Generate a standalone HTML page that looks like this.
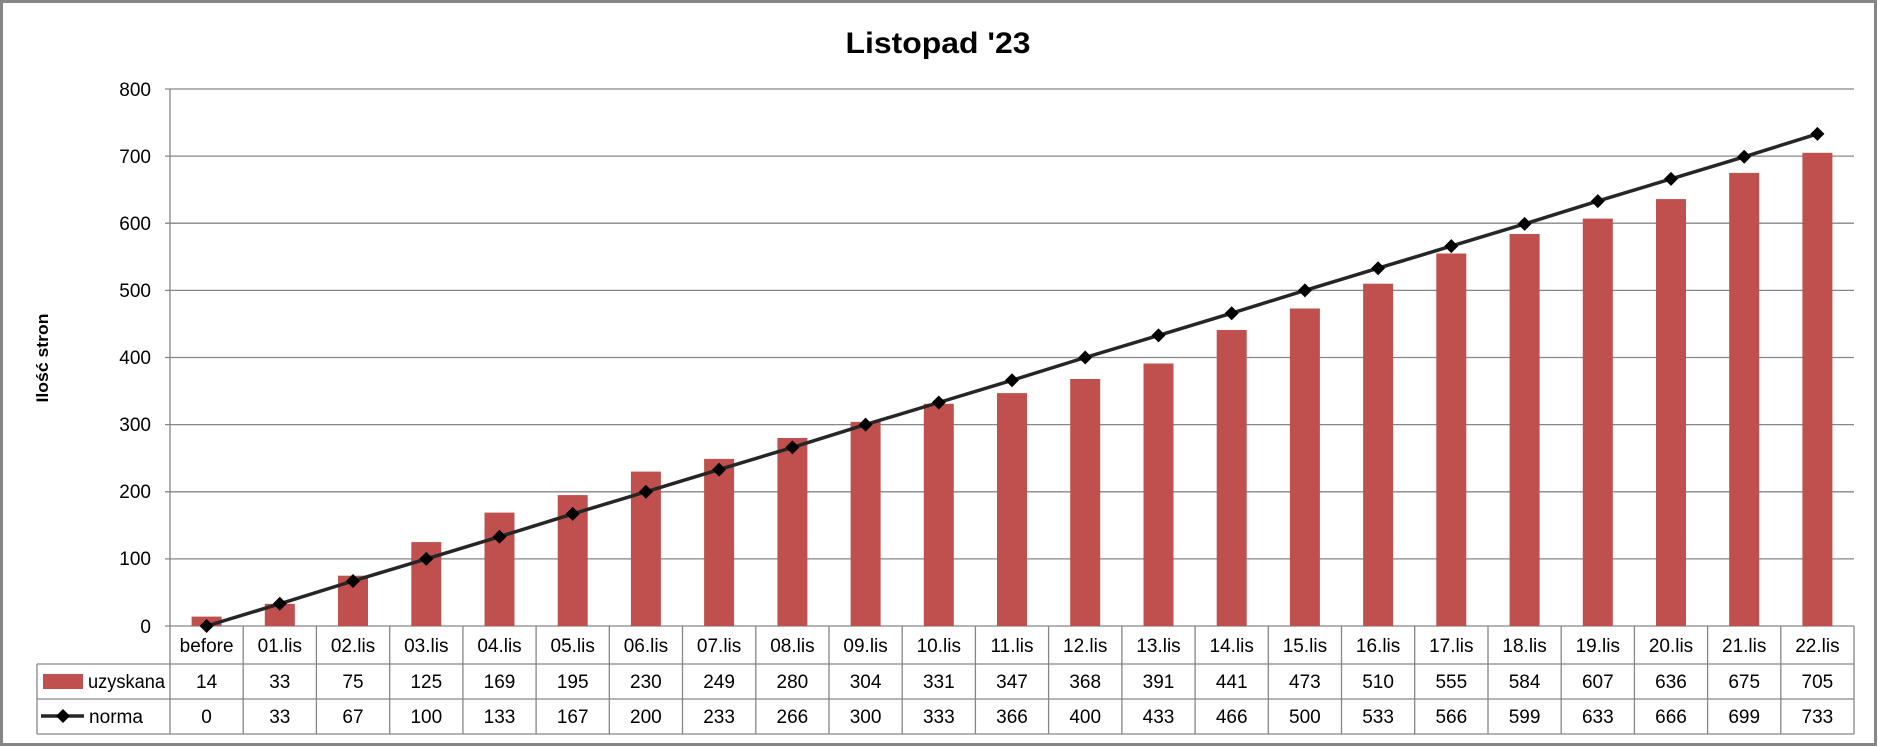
<!DOCTYPE html>
<html><head><meta charset="utf-8"><style>
html,body{margin:0;padding:0;background:#fff}
svg{display:block}
text{font-family:"Liberation Sans",sans-serif;fill:#000}
</style></head><body>
<svg width="1878" height="747" xmlns="http://www.w3.org/2000/svg">
<rect x="1.5" y="1.5" width="1874" height="743" fill="#fff" stroke="#868686" stroke-width="3"/>
<text x="938" y="53" font-size="30" font-weight="bold" text-anchor="middle" textLength="185" lengthAdjust="spacingAndGlyphs">Listopad '23</text>
<text transform="translate(48,358) rotate(-90)" font-size="17" font-weight="bold" text-anchor="middle" textLength="89" lengthAdjust="spacingAndGlyphs">Ilość stron</text>
<g stroke="#868686" stroke-width="1.3">
<line x1="165" y1="89" x2="1854" y2="89"/>
<line x1="165" y1="156.1" x2="1854" y2="156.1"/>
<line x1="165" y1="223.2" x2="1854" y2="223.2"/>
<line x1="165" y1="290.4" x2="1854" y2="290.4"/>
<line x1="165" y1="357.5" x2="1854" y2="357.5"/>
<line x1="165" y1="424.6" x2="1854" y2="424.6"/>
<line x1="165" y1="491.8" x2="1854" y2="491.8"/>
<line x1="165" y1="558.9" x2="1854" y2="558.9"/>
<line x1="165" y1="626" x2="1854" y2="626"/>
<line x1="170" y1="89" x2="170" y2="734"/>
<line x1="37" y1="664" x2="1854" y2="664"/>
<line x1="37" y1="699" x2="1854" y2="699"/>
<line x1="37" y1="734" x2="1854" y2="734"/>
<line x1="37" y1="664" x2="37" y2="734"/>
<line x1="243.2" y1="626" x2="243.2" y2="734"/><line x1="316.4" y1="626" x2="316.4" y2="734"/><line x1="389.7" y1="626" x2="389.7" y2="734"/><line x1="462.9" y1="626" x2="462.9" y2="734"/><line x1="536.1" y1="626" x2="536.1" y2="734"/><line x1="609.3" y1="626" x2="609.3" y2="734"/><line x1="682.5" y1="626" x2="682.5" y2="734"/><line x1="755.8" y1="626" x2="755.8" y2="734"/><line x1="829" y1="626" x2="829" y2="734"/><line x1="902.2" y1="626" x2="902.2" y2="734"/><line x1="975.4" y1="626" x2="975.4" y2="734"/><line x1="1048.6" y1="626" x2="1048.6" y2="734"/><line x1="1121.9" y1="626" x2="1121.9" y2="734"/><line x1="1195.1" y1="626" x2="1195.1" y2="734"/><line x1="1268.3" y1="626" x2="1268.3" y2="734"/><line x1="1341.5" y1="626" x2="1341.5" y2="734"/><line x1="1414.7" y1="626" x2="1414.7" y2="734"/><line x1="1488" y1="626" x2="1488" y2="734"/><line x1="1561.2" y1="626" x2="1561.2" y2="734"/><line x1="1634.4" y1="626" x2="1634.4" y2="734"/><line x1="1707.6" y1="626" x2="1707.6" y2="734"/><line x1="1780.8" y1="626" x2="1780.8" y2="734"/><line x1="1854" y1="626" x2="1854" y2="734"/>
</g>
<g font-size="19" text-anchor="end">
<text x="151" y="96">800</text><text x="151" y="163">700</text><text x="151" y="230">600</text><text x="151" y="297">500</text><text x="151" y="364">400</text><text x="151" y="431">300</text><text x="151" y="498">200</text><text x="151" y="565">100</text><text x="151" y="633">0</text>
</g>
<g fill="#C0504D">
<rect x="191.6" y="616.6" width="30" height="9.4"/><rect x="264.8" y="603.8" width="30" height="22.2"/><rect x="338" y="575.7" width="30" height="50.3"/><rect x="411.3" y="542.1" width="30" height="83.9"/><rect x="484.5" y="512.6" width="30" height="113.4"/><rect x="557.7" y="495.1" width="30" height="130.9"/><rect x="630.9" y="471.6" width="30" height="154.4"/><rect x="704.1" y="458.9" width="30" height="167.1"/><rect x="777.4" y="438" width="30" height="188"/><rect x="850.6" y="421.9" width="30" height="204.1"/><rect x="923.8" y="403.8" width="30" height="222.2"/><rect x="997" y="393.1" width="30" height="232.9"/><rect x="1070.2" y="379" width="30" height="247"/><rect x="1143.5" y="363.5" width="30" height="262.5"/><rect x="1216.7" y="330" width="30" height="296"/><rect x="1289.9" y="308.5" width="30" height="317.5"/><rect x="1363.1" y="283.7" width="30" height="342.3"/><rect x="1436.3" y="253.5" width="30" height="372.5"/><rect x="1509.6" y="234" width="30" height="392"/><rect x="1582.8" y="218.6" width="30" height="407.4"/><rect x="1656" y="199.1" width="30" height="426.9"/><rect x="1729.2" y="172.9" width="30" height="453.1"/><rect x="1802.4" y="152.8" width="30" height="473.2"/>
<rect x="43" y="674" width="40" height="15"/>
</g>
<polyline fill="none" stroke="#262626" stroke-width="3.5" points="206.6,626 279.8,603.8 353,581 426.3,558.9 499.5,536.7 572.7,513.9 645.9,491.8 719.1,469.6 792.4,447.4 865.6,424.6 938.8,402.5 1012,380.3 1085.2,357.5 1158.5,335.4 1231.7,313.2 1304.9,290.4 1378.1,268.2 1451.3,246.1 1524.6,223.9 1597.8,201.1 1671,178.9 1744.2,156.8 1817.4,133.9"/>
<line x1="41" y1="716" x2="84" y2="716" stroke="#262626" stroke-width="3.5"/>
<g fill="#000">
<path d="M0,-7 L7,0 L0,7 L-7,0Z" transform="translate(63,716)"/>
<path d="M0,-7 L7,0 L0,7 L-7,0Z" transform="translate(206.6,626)"/><path d="M0,-7 L7,0 L0,7 L-7,0Z" transform="translate(279.8,603.8)"/><path d="M0,-7 L7,0 L0,7 L-7,0Z" transform="translate(353,581)"/><path d="M0,-7 L7,0 L0,7 L-7,0Z" transform="translate(426.3,558.9)"/><path d="M0,-7 L7,0 L0,7 L-7,0Z" transform="translate(499.5,536.7)"/><path d="M0,-7 L7,0 L0,7 L-7,0Z" transform="translate(572.7,513.9)"/><path d="M0,-7 L7,0 L0,7 L-7,0Z" transform="translate(645.9,491.8)"/><path d="M0,-7 L7,0 L0,7 L-7,0Z" transform="translate(719.1,469.6)"/><path d="M0,-7 L7,0 L0,7 L-7,0Z" transform="translate(792.4,447.4)"/><path d="M0,-7 L7,0 L0,7 L-7,0Z" transform="translate(865.6,424.6)"/><path d="M0,-7 L7,0 L0,7 L-7,0Z" transform="translate(938.8,402.5)"/><path d="M0,-7 L7,0 L0,7 L-7,0Z" transform="translate(1012,380.3)"/><path d="M0,-7 L7,0 L0,7 L-7,0Z" transform="translate(1085.2,357.5)"/><path d="M0,-7 L7,0 L0,7 L-7,0Z" transform="translate(1158.5,335.4)"/><path d="M0,-7 L7,0 L0,7 L-7,0Z" transform="translate(1231.7,313.2)"/><path d="M0,-7 L7,0 L0,7 L-7,0Z" transform="translate(1304.9,290.4)"/><path d="M0,-7 L7,0 L0,7 L-7,0Z" transform="translate(1378.1,268.2)"/><path d="M0,-7 L7,0 L0,7 L-7,0Z" transform="translate(1451.3,246.1)"/><path d="M0,-7 L7,0 L0,7 L-7,0Z" transform="translate(1524.6,223.9)"/><path d="M0,-7 L7,0 L0,7 L-7,0Z" transform="translate(1597.8,201.1)"/><path d="M0,-7 L7,0 L0,7 L-7,0Z" transform="translate(1671,178.9)"/><path d="M0,-7 L7,0 L0,7 L-7,0Z" transform="translate(1744.2,156.8)"/><path d="M0,-7 L7,0 L0,7 L-7,0Z" transform="translate(1817.4,133.9)"/>
</g>
<g font-size="19">
<text x="88" y="688" textLength="77" lengthAdjust="spacingAndGlyphs">uzyskana</text>
<text x="89" y="723" textLength="54" lengthAdjust="spacingAndGlyphs">norma</text>
</g>
<g font-size="19" text-anchor="middle">
<text x="206.6" y="652">before</text><text x="279.8" y="652">01.lis</text><text x="353" y="652">02.lis</text><text x="426.3" y="652">03.lis</text><text x="499.5" y="652">04.lis</text><text x="572.7" y="652">05.lis</text><text x="645.9" y="652">06.lis</text><text x="719.1" y="652">07.lis</text><text x="792.4" y="652">08.lis</text><text x="865.6" y="652">09.lis</text><text x="938.8" y="652">10.lis</text><text x="1012" y="652">11.lis</text><text x="1085.2" y="652">12.lis</text><text x="1158.5" y="652">13.lis</text><text x="1231.7" y="652">14.lis</text><text x="1304.9" y="652">15.lis</text><text x="1378.1" y="652">16.lis</text><text x="1451.3" y="652">17.lis</text><text x="1524.6" y="652">18.lis</text><text x="1597.8" y="652">19.lis</text><text x="1671" y="652">20.lis</text><text x="1744.2" y="652">21.lis</text><text x="1817.4" y="652">22.lis</text>
<text x="206.6" y="688">14</text><text x="279.8" y="688">33</text><text x="353" y="688">75</text><text x="426.3" y="688">125</text><text x="499.5" y="688">169</text><text x="572.7" y="688">195</text><text x="645.9" y="688">230</text><text x="719.1" y="688">249</text><text x="792.4" y="688">280</text><text x="865.6" y="688">304</text><text x="938.8" y="688">331</text><text x="1012" y="688">347</text><text x="1085.2" y="688">368</text><text x="1158.5" y="688">391</text><text x="1231.7" y="688">441</text><text x="1304.9" y="688">473</text><text x="1378.1" y="688">510</text><text x="1451.3" y="688">555</text><text x="1524.6" y="688">584</text><text x="1597.8" y="688">607</text><text x="1671" y="688">636</text><text x="1744.2" y="688">675</text><text x="1817.4" y="688">705</text>
<text x="206.6" y="723">0</text><text x="279.8" y="723">33</text><text x="353" y="723">67</text><text x="426.3" y="723">100</text><text x="499.5" y="723">133</text><text x="572.7" y="723">167</text><text x="645.9" y="723">200</text><text x="719.1" y="723">233</text><text x="792.4" y="723">266</text><text x="865.6" y="723">300</text><text x="938.8" y="723">333</text><text x="1012" y="723">366</text><text x="1085.2" y="723">400</text><text x="1158.5" y="723">433</text><text x="1231.7" y="723">466</text><text x="1304.9" y="723">500</text><text x="1378.1" y="723">533</text><text x="1451.3" y="723">566</text><text x="1524.6" y="723">599</text><text x="1597.8" y="723">633</text><text x="1671" y="723">666</text><text x="1744.2" y="723">699</text><text x="1817.4" y="723">733</text>
</g>
</svg>
</body></html>
